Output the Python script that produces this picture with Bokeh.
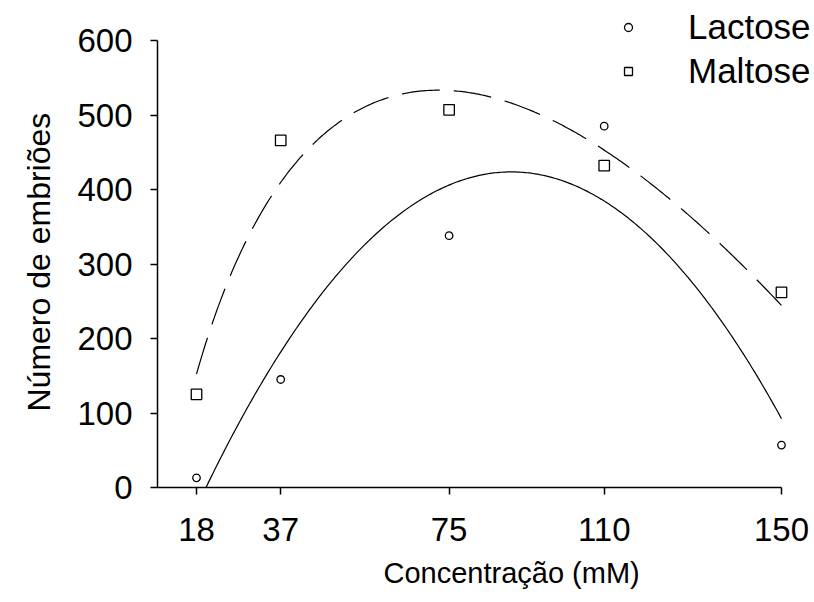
import numpy as np
from bokeh.plotting import figure
from bokeh.models import FixedTicker, Legend, LegendItem, ColumnDataSource, Range1d, Title
from bokeh.embed import file_html
from bokeh.resources import INLINE

# ---- data ----
conc = [18, 37, 75, 110, 150]
lactose = [13, 145, 338, 485, 57]
maltose = [125, 466, 507, 432, 262]
x_ticks = [18, 37, 75, 110, 150]
y_ticks = [0, 100, 200, 300, 400, 500, 600]

FONT = "Liberation Sans"

# fitted trend lines (least squares from the data)
xc = np.array(conc, dtype=float)
xs = np.linspace(18, 150, 300)
lac_coef = np.polyfit(xc, np.array(lactose, dtype=float), 2)
lac_fit = np.polyval(lac_coef, xs)
mal_coef = np.polyfit(np.sqrt(xc), np.array(maltose, dtype=float), 2)
mal_fit = np.polyval(mal_coef, np.sqrt(xs))

p = figure(width=814, height=602,
           x_range=Range1d(9.2, 157.45), y_range=Range1d(0, 653.7),
           output_backend="svg", toolbar_location=None,
           min_border_left=157, min_border_right=0,
           min_border_top=0, min_border_bottom=115)
p.outline_line_color = None
p.xgrid.visible = False
p.ygrid.visible = False
p.background_fill_color = "white"
p.border_fill_color = "white"

l_lac = p.line(xs, lac_fit, line_color="black", line_width=1.2)
l_mal = p.line(xs, mal_fit, line_color="black", line_width=1.2, line_dash="38 14")

src = ColumnDataSource(dict(x=conc, lac=lactose, mal=maltose))
r_lac = p.scatter("x", "lac", source=src, marker="circle", size=7.5,
                  fill_color="white", line_color="black", line_width=1.3)
r_mal = p.scatter("x", "mal", source=src, marker="square", size=10.5,
                  fill_color="white", line_color="black", line_width=1.3)

for ax in (p.xaxis[0], p.yaxis[0]):
    ax.axis_line_color = "black"
    ax.axis_line_width = 1.5
    ax.major_tick_line_color = "black"
    ax.major_tick_line_width = 1.5
    ax.major_tick_in = 0
    ax.major_tick_out = 7
    ax.minor_tick_line_color = None
    ax.major_label_text_font = FONT
    ax.major_label_text_color = "black"

p.xaxis[0].ticker = FixedTicker(ticks=x_ticks)
p.xaxis[0].bounds = (9.2, 150)
p.xaxis[0].major_label_text_font_size = "33px"
p.xaxis[0].major_label_standoff = 23

p.yaxis[0].ticker = FixedTicker(ticks=y_ticks)
p.yaxis[0].bounds = (0, 600)
p.yaxis[0].major_label_text_font_size = "33px"
p.yaxis[0].major_label_standoff = 18

# axis titles as side titles so they can be offset like the reference
xtitle = Title(text="Concentração (mM)", align="left", offset=226, standoff=22,
               text_font=FONT, text_font_size="29px", text_font_style="normal",
               text_color="black")
p.add_layout(xtitle, "below")
ytitle = Title(text="Número de embriões", align="left", offset=76, standoff=36,
               text_font=FONT, text_font_size="32px", text_font_style="normal",
               text_color="black")
p.add_layout(ytitle, "left")

legend = Legend(items=[LegendItem(label="Lactose", renderers=[r_lac]),
                       LegendItem(label="Maltose", renderers=[r_mal])],
                location=(461, 394), orientation="vertical",
                border_line_color=None, background_fill_alpha=0,
                padding=0, margin=0, spacing=0,
                glyph_width=20, glyph_height=44, label_height=44,
                label_standoff=50,
                label_text_font=FONT, label_text_font_size="35px",
                label_text_color="black")
p.add_layout(legend)

open("out.html", "w").write(file_html(p, INLINE))
